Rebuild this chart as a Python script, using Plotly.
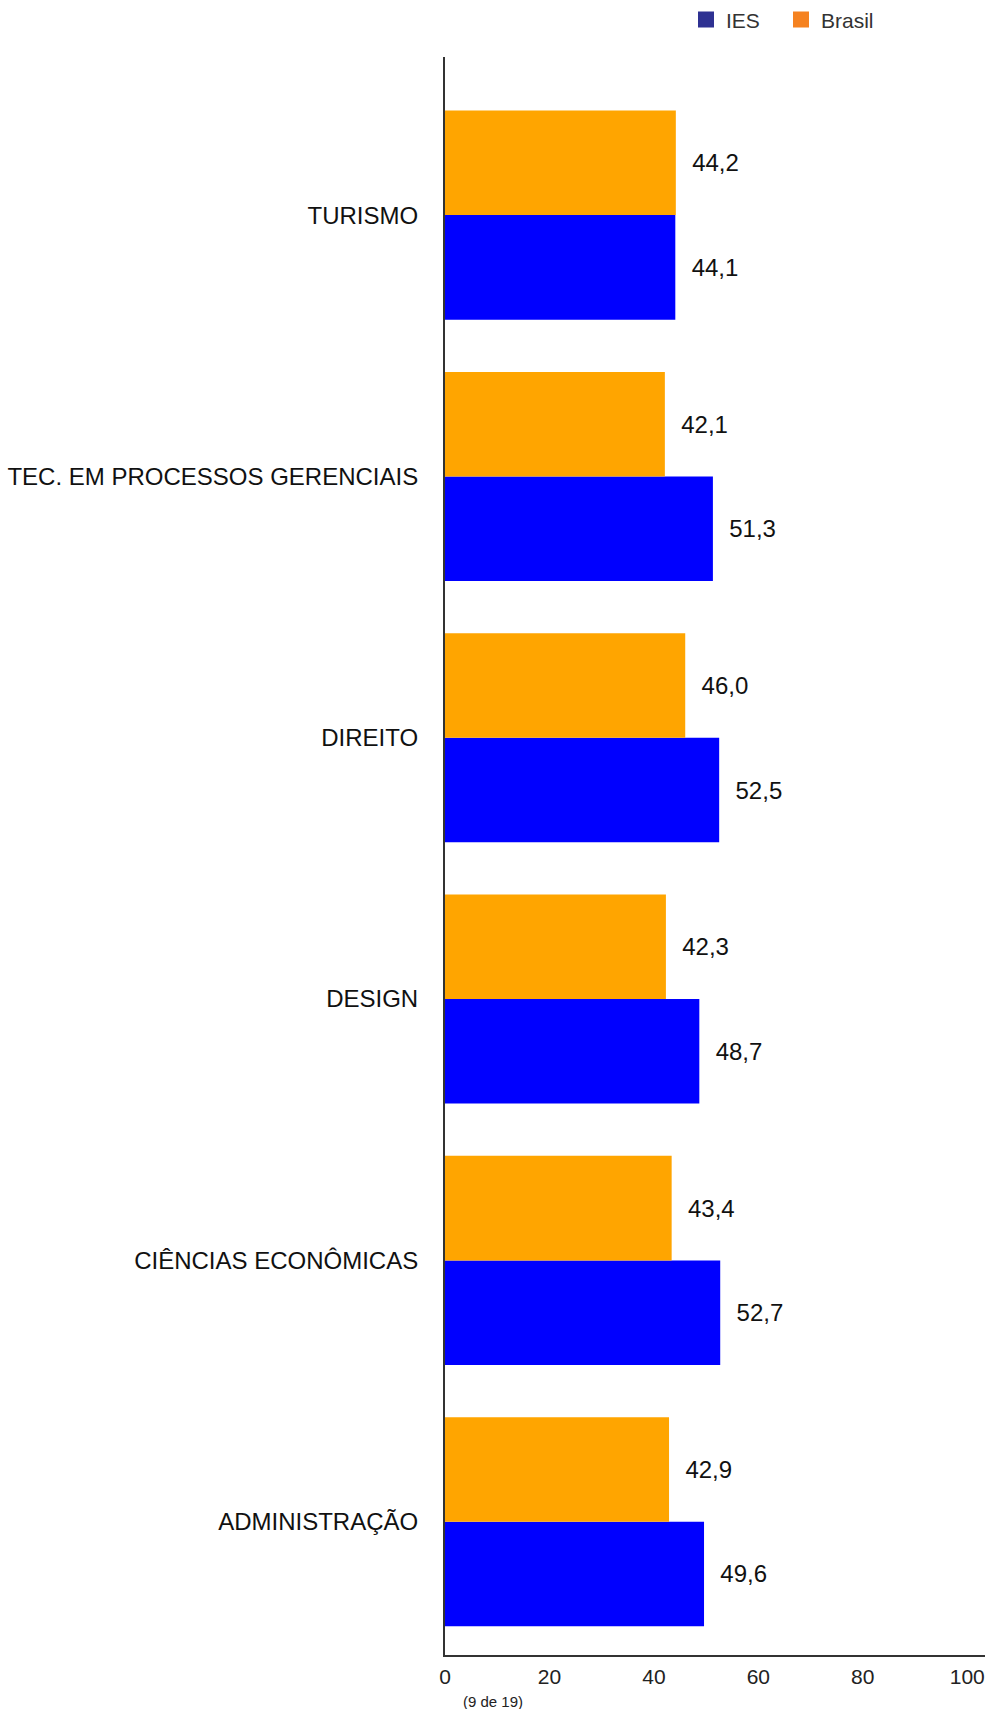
import plotly.graph_objects as go

categories = ["ADMINISTRAÇÃO", "CIÊNCIAS ECONÔMICAS", "DESIGN", "DIREITO",
              "TEC. EM PROCESSOS GERENCIAIS", "TURISMO"]
ies_values = [49.6, 52.7, 48.7, 52.5, 51.3, 44.1]
brasil_values = [42.9, 43.4, 42.3, 46.0, 42.1, 44.2]
x_ticks = [0, 20, 40, 60, 80, 100]
footnote = "(9 de 19)"

FONT = "Liberation Sans, Arial, sans-serif"
BAR_BLUE = "#0000FF"
BAR_ORANGE = "#FFA500"
LEG_BLUE = "#2E3192"
LEG_ORANGE = "#F58220"
LABEL_TPL = "\u00a0\u00a0%{x:.1f}"

fig = go.Figure()
fig.add_trace(go.Bar(
    y=categories, x=ies_values, orientation="h", name="IES",
    marker=dict(color=BAR_BLUE, line=dict(width=0)),
    texttemplate=LABEL_TPL, textposition="outside",
    textfont=dict(size=24, color="#111111", family=FONT),
    cliponaxis=False, showlegend=False, hoverinfo="x+y"))
fig.add_trace(go.Bar(
    y=categories, x=brasil_values, orientation="h", name="Brasil",
    marker=dict(color=BAR_ORANGE, line=dict(width=0)),
    texttemplate=LABEL_TPL, textposition="outside",
    textfont=dict(size=24, color="#111111", family=FONT),
    cliponaxis=False, showlegend=False, hoverinfo="x+y"))

# legend entries (legend swatch colours differ from bar colours in the reference)
fig.add_trace(go.Scatter(x=[None], y=[None], mode="markers", name="IES",
                         marker=dict(symbol="square", size=16, color=LEG_BLUE)))
fig.add_trace(go.Scatter(x=[None], y=[None], mode="markers", name="Brasil",
                         marker=dict(symbol="square", size=16, color=LEG_ORANGE)))

fig.update_layout(
    width=985, height=1709,
    margin=dict(l=445, r=0, t=57, b=54, pad=0, autoexpand=False),
    paper_bgcolor="white", plot_bgcolor="white",
    barmode="group", bargap=0.2, bargroupgap=0,
    separators=",.",
    font=dict(family=FONT, color="#111111"),
    showlegend=True,
    legend=dict(orientation="h", x=0.4463, xanchor="left", y=1.036, yanchor="top",
                font=dict(size=21, color="#333333", family=FONT),
                entrywidth=50, entrywidthmode="pixels",
                bgcolor="rgba(0,0,0,0)", traceorder="normal"),
    annotations=[dict(text=footnote, xref="paper", yref="paper",
                      x=0.0898, y=-0.0288, xanchor="center", yanchor="middle",
                      showarrow=False, font=dict(size=15, color="#222222", family=FONT))],
)
fig.update_xaxes(range=[0, 103.4], tickvals=x_ticks, ticktext=[str(v) for v in x_ticks],
                 showgrid=False, zeroline=False, showline=True, linecolor="#333333",
                 linewidth=2, ticks="", ticklabelstandoff=2,
                 tickfont=dict(size=21, color="#222222", family=FONT), fixedrange=True)
fig.update_yaxes(type="category", categoryorder="array", categoryarray=categories,
                 range=[-0.51, 5.605], showgrid=False, zeroline=False, showline=True,
                 linecolor="#333333", linewidth=2, ticks="", ticklabelstandoff=20,
                 tickfont=dict(size=24, color="#111111", family=FONT), fixedrange=True)

fig.write_html("out.html", config={"displayModeBar": False},
               post_script="document.body.style.margin='0';document.body.style.overflow='hidden';")
